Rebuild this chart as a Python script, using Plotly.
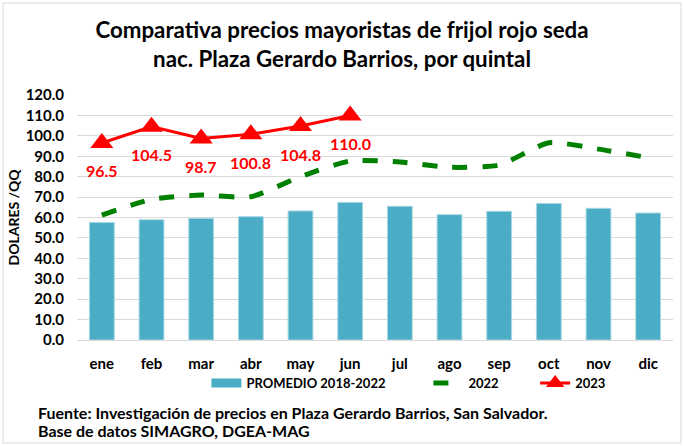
import plotly.graph_objects as go

months = ["ene", "feb", "mar", "abr", "may", "jun", "jul", "ago", "sep", "oct", "nov", "dic"]
promedio = [57.6, 58.9, 59.6, 60.4, 63.2, 67.4, 65.5, 61.4, 63.0, 66.9, 64.5, 62.2]
y2022 = [61.2, 68.9, 71.0, 70.2, 80.0, 87.7, 87.2, 84.6, 85.7, 96.6, 93.5, 89.3]
y2023 = [96.5, 104.5, 98.7, 100.8, 104.8, 110.0]
y_ticks = [0, 10, 20, 30, 40, 50, 60, 70, 80, 90, 100, 110, 120]

FONT = "Lato"
NB = "\u00a0"
BAR_COLOR = "#4BACC6"

fig = go.Figure()
fig.add_trace(go.Bar(x=months, y=promedio, name="PROMEDIO 2018-2022", showlegend=False,
                     marker=dict(color=BAR_COLOR, line=dict(color="#A9D7E4", width=1)),
                     width=0.5))
# legend entry for the bars (wide rectangle swatch)
fig.add_trace(go.Scatter(x=[None], y=[None], name="PROMEDIO 2018-2022" + NB * 12, mode="lines",
                         line=dict(color=BAR_COLOR, width=9)))
fig.add_trace(go.Scatter(x=months, y=y2022, name="2022" + NB * 10, mode="lines",
                         line=dict(color="#008000", width=5, dash="dash", shape="spline", smoothing=0.6)))
fig.add_trace(go.Scatter(x=months[:6], y=y2023, name="2023", mode="lines+markers",
                         line=dict(color="#FF0000", width=3),
                         marker=dict(symbol="triangle-up", size=20, color="#FF0000")))

for m, v in zip(months[:6], y2023):
    fig.add_annotation(x=m, y=v, text=f"<b>{v:.1f}</b>", showarrow=False, yshift=-28,
                       font=dict(color="#FF0000", size=16, family=FONT))

fig.update_layout(
    width=684, height=446,
    margin=dict(l=77, r=11, t=95, b=106),
    paper_bgcolor="white", plot_bgcolor="white",
    font=dict(family=FONT, color="#000000"),
    title=dict(text="<b>Comparativa precios mayoristas de frijol rojo seda<br>nac. Plaza Gerardo Barrios, por quintal</b>",
               x=0.5, xanchor="center", y=1 - 38 / 446, yanchor="top", yref="container",
               font=dict(size=22.3, family=FONT, color="#000000")),
    showlegend=True,
    legend=dict(orientation="h", x=0.556, xanchor="center", y=-0.1755, yanchor="middle",
                font=dict(size=13, family=FONT, weight="bold"), traceorder="normal",
                bgcolor="rgba(0,0,0,0)"),
)
fig.update_xaxes(showgrid=False, showline=True, linecolor="#D9D9D9", linewidth=1,
                 tickfont=dict(size=15, family=FONT, weight="bold"), ticks="",
                 ticklabelstandoff=10, range=[-0.5, 11.5])
fig.update_yaxes(range=[0, 120], tickvals=y_ticks, ticktext=[f"{v:.1f}" for v in y_ticks],
                 showgrid=True, gridcolor="#D9D9D9", gridwidth=1, zeroline=False,
                 tickfont=dict(size=15, family=FONT, weight="bold"), ticks="",
                 ticklabelstandoff=12,
                 title=dict(text="<b>DOLARES /QQ</b>", font=dict(size=14, family=FONT), standoff=2))

fig.add_annotation(text="<b>Fuente: Investigación de precios en Plaza Gerardo Barrios, San Salvador.</b>",
                   xref="paper", yref="paper", x=-0.0688, y=-0.294, xanchor="left", yanchor="middle",
                   showarrow=False, font=dict(size=16, family=FONT))
fig.add_annotation(text="<b>Base de datos SIMAGRO, DGEA-MAG</b>",
                   xref="paper", yref="paper", x=-0.0688, y=-0.371, xanchor="left", yanchor="middle",
                   showarrow=False, font=dict(size=16, family=FONT))
fig.add_shape(type="rect", xref="paper", yref="paper",
              x0=-0.124, x1=1.0134, y0=-0.42, y1=1.3755,
              line=dict(color="#D9D9D9", width=1))

fig.write_html("out.html", config={"displayModeBar": False},
               post_script="document.body.style.margin='0px';")
